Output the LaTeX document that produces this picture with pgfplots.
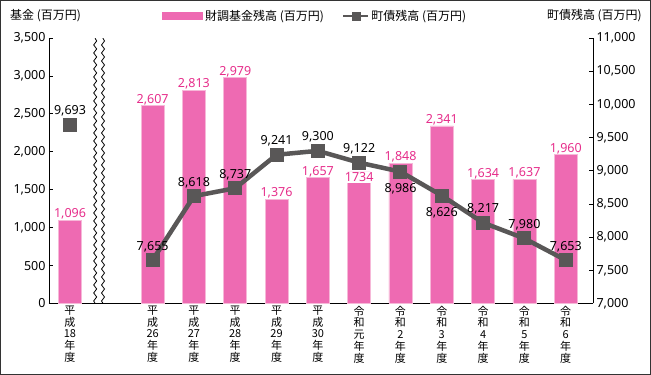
\documentclass[border=0pt]{standalone}
\usepackage{pgfplots}
\pgfplotsset{compat=1.18}
\usepackage{pgfplotstable}
\usepackage{fontspec}
\setmainfont{Noto Sans}
\newfontfamily\cjk{Noto Sans CJK JP}
\usetikzlibrary{decorations.pathmorphing}
\definecolor{barpink}{HTML}{EE6AB2}
\definecolor{edgepink}{HTML}{F6B8D8}
\definecolor{labpink}{HTML}{E62E8B}
\definecolor{linegray}{HTML}{595757}

\pgfplotstableread{
x y lab
0 1096 1,096
2 2607 2,607
3 2813 2,813
4 2979 2,979
5 1376 1,376
6 1657 1,657
7 1734 {}
8 1848 1,848
9 2341 2,341
10 1634 1,634
11 1637 1,637
12 1960 1,960
}\bars

\pgfplotstableread{
x y
2 7655
3 8618
4 8737
5 9241
6 9300
7 9122
8 8986
9 8626
10 8217
11 7980
12 7653
}\debt

\newcommand{\numfont}{\fontsize{12.5}{12.5}\selectfont}
\newcommand{\jfont}{\cjk\fontsize{12}{12}\selectfont}

\begin{document}
\begin{tikzpicture}[x=1pt,y=1pt]
\useasboundingbox (0,0) rectangle (651,375);
\draw[black!80, line width=1pt] (0.5,0.5) rectangle (650.5,374.5);

\begin{axis}[
  at={(49pt,71.5pt)}, anchor=south west, scale only axis,
  width=544pt, height=265.5pt,
  xmin=-0.508, xmax=12.66, ymin=0, ymax=3500,
  axis x line*=bottom, axis y line*=left,
  axis line style={-, black, line width=0.8pt},
  ybar, bar width=23pt,
  xtick={0,2,3,4,5,6,7,8,9,10,11,12},
  xticklabels={{平\\成\\18\\年\\度},{平\\成\\26\\年\\度},{平\\成\\27\\年\\度},{平\\成\\28\\年\\度},{平\\成\\29\\年\\度},{平\\成\\30\\年\\度},{令\\和\\元\\年\\度},{令\\和\\2\\年\\度},{令\\和\\3\\年\\度},{令\\和\\4\\年\\度},{令\\和\\5\\年\\度},{令\\和\\6\\年\\度}},
  xticklabel style={font=\cjk\fontsize{11}{11.7}\selectfont, align=center, anchor=north, yshift=1pt},
  xtick style={draw=none},
  ytick={0,500,...,3500},
  scaled y ticks=false,
  tick align=inside, major tick length=4pt,
  tick style={black, line width=0.8pt},
  yticklabel style={font=\numfont},
  /pgf/number format/assume math mode=true,
  /pgf/number format/1000 sep={,},
  legend style={at={(0.208,1.083)}, anchor=west, draw=none, fill=none, inner sep=0pt,
    font=\jfont, legend columns=2,
    /tikz/every even column/.append style={column sep=16pt}},
]
\addplot[fill=barpink, draw=edgepink, line width=0.8pt,
  legend image code/.code={\fill[barpink] (0pt,-3.3pt) rectangle (40pt,3.3pt);},
  nodes near coords, point meta=explicit symbolic,
  nodes near coords style={labpink, font=\numfont, anchor=base, yshift=2.5pt}]
  table[x=x,y=y,meta=lab]{\bars};
\addlegendentry{財調基金残高 (百万円)}
\addlegendimage{legend image code/.code={\draw[linegray, line width=2.5pt] (0pt,0pt) -- (25pt,0pt); \fill[linegray] (9pt,-4pt) rectangle (17pt,4pt);}}
\addlegendentry{町債残高 (百万円)}
\node[labpink, fill=white, inner sep=0.6pt, anchor=base, font=\numfont, yshift=-10pt] at (axis cs:7,1734) {1734};
\draw[black, line width=0.8pt, decorate, decoration={snake, amplitude=1.5pt, segment length=8pt}] (axis cs:0.61,0) -- (axis cs:0.61,3500);
\draw[black, line width=0.8pt, decorate, decoration={snake, amplitude=1.5pt, segment length=8pt}] (axis cs:0.80,0) -- (axis cs:0.80,3500);
\end{axis}

\begin{axis}[
  at={(49pt,71.5pt)}, anchor=south west, scale only axis,
  width=544pt, height=265.5pt,
  xmin=-0.508, xmax=12.66, ymin=7000, ymax=11000,
  axis x line=none, axis y line*=right,
  axis line style={-, black, line width=0.8pt},
  ytick={7000,7500,...,11000},
  scaled y ticks=false,
  tick align=inside, major tick length=4pt,
  tick style={black, line width=0.8pt},
  yticklabel style={font=\numfont},
  /pgf/number format/assume math mode=true,
  /pgf/number format/1000 sep={,},
]
\addplot[only marks, mark=square*, mark size=6.5pt, color=linegray] coordinates {(0,9693)};
\addplot[linegray, line width=4.5pt, mark=square*, mark size=6.5pt, mark options={solid, line width=0pt}] table[x=x,y=y]{\debt};
\node[anchor=base, font=\numfont, yshift=10pt] at (axis cs:0,9693) {9,693};
\node[anchor=base, font=\numfont, yshift=10pt] at (axis cs:2,7655) {7,655};
\node[anchor=base, font=\numfont, yshift=10pt] at (axis cs:3,8618) {8,618};
\node[anchor=base, font=\numfont, yshift=10pt] at (axis cs:4,8737) {8,737};
\node[anchor=base, font=\numfont, yshift=10pt] at (axis cs:5,9241) {9,241};
\node[anchor=base, font=\numfont, yshift=10pt] at (axis cs:6,9300) {9,300};
\node[anchor=base, font=\numfont, yshift=10pt] at (axis cs:7,9122) {9,122};
\node[anchor=base, font=\numfont, yshift=-21pt] at (axis cs:8,8986) {8,986};
\node[anchor=base, font=\numfont, yshift=-21pt] at (axis cs:9,8626) {8,626};
\node[anchor=base, font=\numfont, yshift=10pt] at (axis cs:10,8217) {8,217};
\node[anchor=base, font=\numfont, yshift=10pt] at (axis cs:11,7980) {7,980};
\node[anchor=base, font=\numfont, yshift=10pt] at (axis cs:12,7653) {7,653};
\end{axis}

\node[anchor=west, font=\jfont, inner sep=0pt] at (10,359) {基金 (百万円)};
\node[anchor=east, font=\jfont, inner sep=0pt] at (642,359) {町債残高 (百万円)};
\end{tikzpicture}
\end{document}
